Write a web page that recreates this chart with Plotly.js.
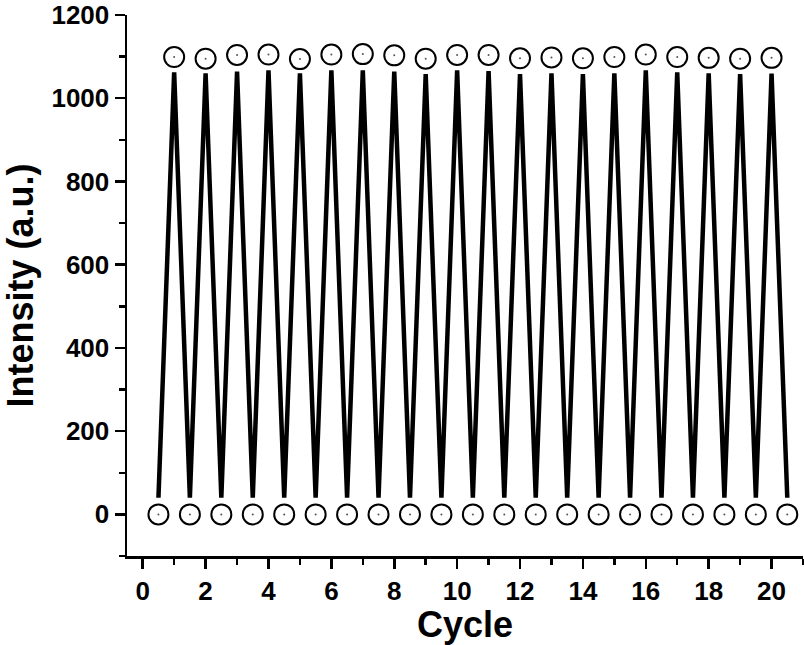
<!DOCTYPE html>
<html>
<head>
<meta charset="utf-8">
<script src="https://cdn.plot.ly/plotly-3.0.1.min.js"></script>
<style>
  html, body { margin: 0; padding: 0; background: #fff; }
  #chart { width: 804px; height: 645px; }
</style>
</head>
<body>
<div id="chart"></div>
<script>
  // half-cycle positions: off at x.5, on at integer cycles
  const cycleX = [
    0.5, 1, 1.5, 2, 2.5, 3, 3.5, 4, 4.5, 5, 5.5, 6, 6.5, 7, 7.5, 8, 8.5, 9, 9.5, 10,
    10.5, 11, 11.5, 12, 12.5, 13, 13.5, 14, 14.5, 15, 15.5, 16, 16.5, 17, 17.5, 18,
    18.5, 19, 19.5, 20, 20.5
  ];

  // thick zigzag line
  const lineIntensity = [
    40, 1062, 40, 1060, 40, 1064, 40, 1067, 40, 1060, 40, 1067, 40, 1067, 40, 1064,
    40, 1058, 40, 1067, 40, 1065, 40, 1058, 40, 1060, 40, 1058, 40, 1060, 40, 1067,
    40, 1062, 40, 1060, 40, 1058, 40, 1059, 40
  ];

  // open-circle markers
  const markerIntensity = [
    0, 1099, 0, 1095, 0, 1104, 0, 1105, 0, 1094, 0, 1105, 0, 1106, 0, 1103,
    0, 1095, 0, 1104, 0, 1104, 0, 1096, 0, 1098, 0, 1096, 0, 1099, 0, 1105,
    0, 1099, 0, 1097, 0, 1095, 0, 1097, 0
  ];

  const font = {
    family: "'Liberation Sans', Arial, Helvetica, sans-serif",
    color: "#000",
    weight: 700
  };

  const traces = [
    {
      type: "scatter",
      mode: "lines",
      x: cycleX,
      y: lineIntensity,
      line: { color: "#000", width: 4.5 },
      hoverinfo: "skip",
      showlegend: false
    },
    {
      type: "scatter",
      mode: "markers",
      x: cycleX,
      y: markerIntensity,
      marker: {
        symbol: "circle-open",
        size: 20,
        color: "#000",
        line: { width: 2, color: "#000" }
      },
      showlegend: false
    },
    {
      type: "scatter",
      mode: "markers",
      x: cycleX,
      y: markerIntensity,
      marker: { symbol: "circle", size: 2, color: "#555" },
      hoverinfo: "skip",
      showlegend: false
    }
  ];

  const layout = {
    width: 804,
    height: 645,
    paper_bgcolor: "#fff",
    plot_bgcolor: "#fff",
    margin: { l: 127, r: 1, t: 15, b: 89 },
    font: font,
    showlegend: false,
    xaxis: {
      range: [-0.5, 21],
      tickvals: [0, 2, 4, 6, 8, 10, 12, 14, 16, 18, 20],
      ticks: "outside",
      ticklen: 10,
      tickwidth: 2.5,
      tickcolor: "#000",
      minor: { dtick: 1, tick0: 0, ticks: "outside", ticklen: 6, tickwidth: 2.5, tickcolor: "#000" },
      showline: true,
      linewidth: 2.5,
      linecolor: "#000",
      showgrid: false,
      zeroline: false,
      ticklabeloverflow: "allow",
      tickfont: { ...font, size: 26 },
      title: { text: "Cycle", font: { ...font, size: 36 }, standoff: 10 }
    },
    yaxis: {
      range: [-100, 1200],
      tickvals: [0, 200, 400, 600, 800, 1000, 1200],
      ticks: "outside",
      ticklen: 10,
      tickwidth: 2.5,
      tickcolor: "#000",
      minor: { dtick: 100, tick0: 0, ticks: "outside", ticklen: 6, tickwidth: 2.5, tickcolor: "#000" },
      showline: true,
      linewidth: 2.5,
      linecolor: "#000",
      showgrid: false,
      zeroline: false,
      ticklabeloverflow: "allow",
      tickfont: { ...font, size: 26 },
      title: { text: "Intensity (a.u.)", font: { ...font, size: 36 }, standoff: 8 }
    }
  };

  Plotly.newPlot("chart", traces, layout, { displayModeBar: false, staticPlot: true });
</script>
</body>
</html>
